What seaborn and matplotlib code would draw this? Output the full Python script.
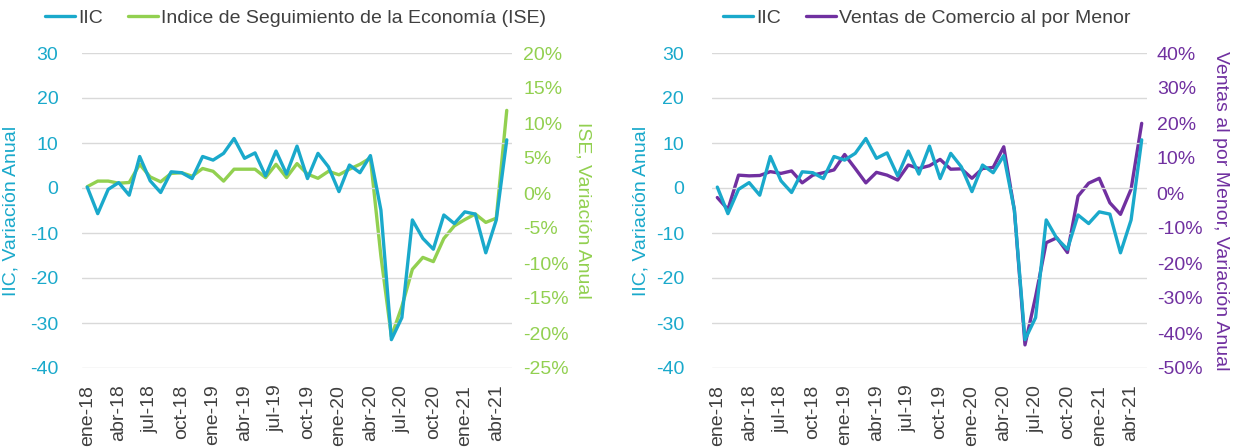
import seaborn as sns
import matplotlib.pyplot as plt
from matplotlib.lines import Line2D
import pandas as pd

# meses ene-18 .. may-21
meses = ['ene', 'feb', 'mar', 'abr', 'may', 'jun', 'jul', 'ago', 'sep', 'oct', 'nov', 'dic']
fechas = [f'{meses[i % 12]}-{18 + i // 12}' for i in range(41)]

iic = [0.2, -5.7, -0.3, 1.2, -1.6, 7.0, 1.6, -1.0, 3.6, 3.4, 2.1, 7.0,
       6.2, 7.7, 11.0, 6.6, 7.8, 2.7, 8.2, 3.1, 9.3, 2.1, 7.7, 4.7,
       -0.8, 5.1, 3.4, 7.2, -4.9, -33.7, -28.8, -7.1, -11.2, -13.6, -6.0, -7.9,
       -5.3, -5.8, -14.4, -7.1, 10.7]
ise = [0.9, 1.7, 1.7, 1.4, 1.5, 4.1, 2.3, 1.6, 2.8, 2.9, 2.4, 3.5,
       3.1, 1.7, 3.4, 3.4, 3.4, 2.2, 4.1, 2.2, 4.2, 2.7, 2.1, 3.1,
       2.6, 3.4, 4.1, 5.0, -9.0, -20.5, -16.2, -10.9, -9.2, -9.8, -6.5, -4.7,
       -3.8, -3.0, -4.2, -3.6, 11.8]
ventas = [-1.3, -4.7, 5.1, 4.9, 5.0, 6.1, 5.6, 6.3, 2.9, 5.1, 5.8, 6.6,
          11.0, 7.0, 2.9, 5.9, 5.1, 3.7, 8.0, 7.0, 7.8, 9.6, 6.8, 6.9,
          4.2, 7.0, 7.3, 13.2, -4.9, -43.4, -29.6, -14.2, -12.8, -17.0, -0.9, 2.8,
          4.2, -2.8, -6.1, 1.1, 19.9]

df = pd.DataFrame({'t': range(len(fechas)), 'fecha': fechas, 'IIC': iic, 'ISE': ise, 'Ventas': ventas})

azul = '#1aa9cb'
verde = '#92d050'
morado = '#7030a0'
gris = '#404040'

sns.set_style('white')
plt.rcParams['font.family'] = ['Liberation Sans', 'DejaVu Sans']
plt.rcParams['axes.unicode_minus'] = False
fs = 14

fig = plt.figure(figsize=(12.37, 4.47), dpi=100)
ax1 = fig.add_axes([82 / 1237, 1 - 368 / 447, 430 / 1237, 315 / 447])
ax3 = fig.add_axes([712 / 1237, 1 - 368 / 447, 435 / 1237, 315 / 447])

paneles = [
    (ax1, 'ISE', verde, [-25, 20], 5, 'ISE, Variación Anual',
     'Indice de Seguimiento de la Economía (ISE)', 45, 17, 8, 1.165, -0.145),
    (ax3, 'Ventas', morado, [-50, 40], 10, 'Ventas al por Menor, Variación Anual',
     'Ventas de Comercio al por Menor', 723, 20, 7, 1.168, -0.143),
]

for ax, col, color, lim, paso, ylab2, nombre, xleg, padl, padr, xlab2, xlab1 in paneles:
    ax2 = ax.twinx()
    sns.lineplot(data=df, x='t', y='IIC', ax=ax, color=azul, lw=2.4)
    sns.lineplot(data=df, x='t', y=col, ax=ax2, color=color, lw=2.4)
    ax.set_zorder(ax2.get_zorder() + 1)
    ax.patch.set_visible(False)

    ax.set_xlim(-0.5, len(fechas) - 0.5)
    ax.set_ylim(-40, 30)
    ax.set_yticks(range(-40, 31, 10))
    ax2.set_ylim(*lim)
    ax2.set_yticks(range(lim[0], lim[1] + 1, paso))
    ax2.set_yticklabels([f'{v}%' for v in range(lim[0], lim[1] + 1, paso)])
    ax.set_xticks(df['t'][::3])
    ax.set_xticklabels(df['fecha'][::3], rotation=90, fontsize=fs, color=gris)

    ax.grid(axis='y', color='#d9d9d9', lw=1)
    ax.grid(axis='x', visible=False)
    ax2.grid(False)
    for a in (ax, ax2):
        for s in a.spines.values():
            s.set_visible(False)
    ax.tick_params(axis='y', length=0, pad=padl, labelsize=fs, labelcolor=azul)
    ax.tick_params(axis='x', length=0, pad=12)
    ax2.tick_params(axis='y', length=0, pad=padr, labelsize=fs, labelcolor=color)

    ax.set_xlabel('')
    ax.set_ylabel('IIC, Variación Anual', fontsize=fs, color=azul)
    ax.yaxis.set_label_coords(xlab1, 0.5)
    ax2.set_ylabel(ylab2, fontsize=fs, color=color, rotation=270, va='center')
    ax2.yaxis.set_label_coords(xlab2, 0.5)

    handles = [Line2D([], [], color=azul, lw=2.4), Line2D([], [], color=color, lw=2.4)]
    fig.legend(handles, ['IIC', nombre], loc='center left',
               bbox_to_anchor=(xleg / 1237, 1 - 18 / 447), ncol=2, frameon=False,
               fontsize=fs, handlelength=1.55, handletextpad=0.15, columnspacing=1.3,
               borderpad=0, borderaxespad=0, labelcolor=gris)

fig.savefig('out.png', dpi=100)
